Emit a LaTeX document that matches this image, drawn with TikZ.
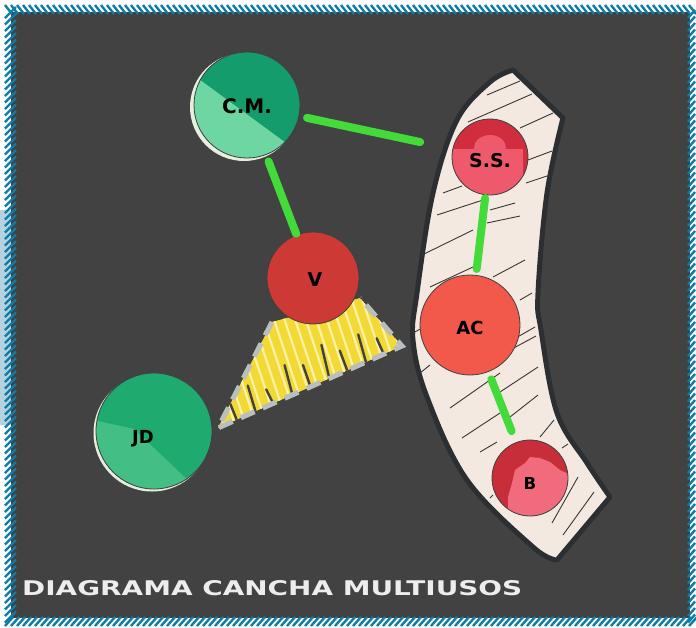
\documentclass[tikz,border=0pt]{standalone}
\usepackage{fontspec}
\usepackage{graphicx}
\setmainfont{DejaVu Sans}
\newfontfamily\titlefont{DejaVu Sans}
\usetikzlibrary{calc}
\definecolor{bgdark}{HTML}{424243}
\definecolor{frameblue}{HTML}{0E7CA8}
\definecolor{patchblue}{HTML}{B6D2DF}
\definecolor{bandfill}{HTML}{F3E9E0}
\definecolor{bandedge}{HTML}{2C2F32}
\definecolor{hatchdark}{HTML}{3A3634}
\definecolor{linkgreen}{HTML}{42DB3A}
\definecolor{wedgeyellow}{HTML}{F2D935}
\definecolor{yellowlight}{HTML}{FBF2A6}
\definecolor{wedgedash}{HTML}{B9BFBF}
\definecolor{cmdark}{HTML}{149C6D}
\definecolor{cmlight}{HTML}{6ED6A2}
\definecolor{jdgreen}{HTML}{1FAA6F}
\definecolor{jdlight}{HTML}{4CC58B}
\definecolor{paperwhite}{HTML}{E6EEDD}
\definecolor{vred}{HTML}{CD3A36}
\definecolor{ssdark}{HTML}{D02E3E}
\definecolor{sspink}{HTML}{EE5A6B}
\definecolor{acred}{HTML}{F2594A}
\definecolor{bdark}{HTML}{C72E39}
\definecolor{bpink}{HTML}{F16B7C}
\definecolor{titlewhite}{HTML}{EDEDED}
\begin{document}
\begin{tikzpicture}[x=1pt,y=-1pt,
  conn/.style={draw=linkgreen, line width=8pt, line cap=round},
  station/.style={circle, inner sep=0pt, draw=black!75, line width=0.8pt},
  lbl/.style={text=black, inner sep=0pt},
  bandhatch/.style={draw=hatchdark, line width=0.9pt},
  framehatch/.style={draw=frameblue, line width=2.4pt}]
\useasboundingbox (0,0) rectangle (696,627);
\fill[white] (0,0) rectangle (696,627);
\fill[patchblue] (0,210) rectangle (11,425);
\fill[bgdark] (11,12) rectangle (690,618);
% frame hatch
\foreach \x in {5,11,...,690} \draw[framehatch] (\x,5) -- ++(7,9);
\foreach \x in {5,11,...,690} \draw[framehatch] (\x,626) -- ++(8,-9);
\foreach \y in {18,24.5,...,626} \draw[framehatch] (5,\y) -- ++(11,-11);
\foreach \y in {18,24.5,...,626} \draw[framehatch] (688,\y) -- ++(7,-8);
% curved band
\draw[bandedge, line width=5pt, fill=bandfill, line join=round]
  plot[smooth, tension=0.6] coordinates {(513,70) (490,82) (457,120) (433,193) (417,293) (413,340) (427,397) (467,480) (533,547) (557,560)}
  -- (610,497)
  -- plot[smooth, tension=0.6] coordinates {(610,497) (587,463) (557,413) (541,330) (538,293) (547,193) (563,118)}
  -- cycle;
\begin{scope}
\clip plot[smooth, tension=0.6] coordinates {(513,70) (490,82) (457,120) (433,193) (417,293) (413,340) (427,397) (467,480) (533,547) (557,560)}
  -- (610,497)
  -- plot[smooth, tension=0.6] coordinates {(610,497) (587,463) (557,413) (541,330) (538,293) (547,193) (563,118)}
  -- cycle;
\foreach \a/\b in {
  {(487,95)}/{(520,81)}, {(468,122)}/{(532,94)}, {(520,128)}/{(553,113)},
  {(528,160)}/{(552,151)}, {(526,183)}/{(550,175)}, {(443,193)}/{(462,186)},
  {(437,215)}/{(483,200)}, {(490,210)}/{(515,203)}, {(422,255)}/{(473,230)},
  {(487,223)}/{(520,216)}, {(430,287)}/{(473,267)}, {(493,277)}/{(525,260)},
  {(520,300)}/{(532,293)}, {(413,333)}/{(422,328)}, {(507,343)}/{(535,327)},
  {(510,350)}/{(536,336)}, {(420,373)}/{(430,365)}, {(450,408)}/{(500,373)},
  {(500,392)}/{(538,367)}, {(462,438)}/{(500,413)}, {(480,452)}/{(497,442)},
  {(510,417)}/{(538,395)}, {(540,437)}/{(554,420)}, {(562,448)}/{(568,444)},
  {(490,498)}/{(493,495)}, {(552,523)}/{(578,477)}, {(563,535)}/{(594,492)}}
  \draw[bandhatch] \a -- \b;
\end{scope}
% yellow wedge
\coordinate (wa) at (218,428);
\coordinate (wb) at (272,322);
\coordinate (wc) at (360,298);
\coordinate (wd) at (402,346);
\begin{scope}
\clip (wa) -- (wb) -- (wc) -- (wd) -- cycle;
\fill[wedgeyellow] (wa) -- (wb) -- (wc) -- (wd) -- cycle;
\foreach \t in {0.02,0.07,...,1.0}
  \draw[yellowlight, line width=2.2pt] ($(wa)!\t!(wd)$) ++(6,8) -- ++(-40,-120);
\foreach \t/\l in {0.1/22,0.2/30,0.3/18,0.4/34,0.5/26,0.6/38,0.7/24,0.8/32,0.9/20}
  \draw[bgdark, line width=2.4pt, line cap=round] ($(wa)!\t!(wd)$) ++(2,4) -- ++(-9,-\l);
\end{scope}
\draw[wedgedash, line width=5pt, dash pattern=on 15pt off 9pt] (wb) -- (wa) -- (wd) -- (wc);
% paper rims of green circles
\fill[paperwhite] (244,107) circle (54);
\fill[paperwhite] (152,433) circle (58.5);
% stations
\node[station, minimum size=106pt, fill=cmdark,
  path picture={\fill[cmlight] ([shift={(-70,-42)}]path picture bounding box.center) -- ([shift={(50,46)}]path picture bounding box.center) -- ([shift={(50,80)}]path picture bounding box.center) -- ([shift={(-70,80)}]path picture bounding box.center) -- cycle;},
  label={[lbl, font=\bfseries\fontsize{20}{20}\selectfont, yshift=-1pt]center:C.M.}] (cm) at (247,105) {};
\node[station, minimum size=116pt, fill=jdgreen,
  path picture={\fill[jdlight, opacity=0.8] ([shift={(-65,-12)}]path picture bounding box.center) -- ([shift={(-20,-2)}]path picture bounding box.center) -- ([shift={(40,55)}]path picture bounding box.center) -- ([shift={(-65,65)}]path picture bounding box.center) -- cycle;},
  label={[lbl, font=\bfseries\fontsize{18}{18}\selectfont, xshift=-11pt, yshift=-8pt]center:JD}] (jd) at (154,431) {};
\node[station, minimum size=92pt, fill=vred,
  label={[lbl, font=\bfseries\fontsize{19}{19}\selectfont, xshift=2pt, yshift=-2pt]center:V}] (v) at (313,278) {};
\node[station, minimum size=76pt, fill=ssdark,
  path picture={\fill[sspink] ([shift={(-45,-8)}]path picture bounding box.center) rectangle ([shift={(33,50)}]path picture bounding box.center);
    \fill[sspink] ([shift={(0,-9)}]path picture bounding box.center) ellipse [x radius=16, y radius=13];},
  label={[lbl, font=\bfseries\fontsize{19}{19}\selectfont, yshift=-4pt]center:S.S.}] (ss) at (490,157) {};
\node[station, minimum size=100pt, fill=acred,
  label={[lbl, font=\bfseries\fontsize{18}{18}\selectfont, yshift=-3pt]center:AC}] (ac) at (470,325) {};
\node[station, minimum size=76pt, fill=bdark,
  path picture={\fill[bpink] ([shift={(-22,19)}]path picture bounding box.center) -- ([shift={(-18,5)}]path picture bounding box.center) -- ([shift={(-15,-8)}]path picture bounding box.center) -- ([shift={(-5,-15)}]path picture bounding box.center) -- ([shift={(0,-21)}]path picture bounding box.center) -- ([shift={(10,-20)}]path picture bounding box.center) -- ([shift={(20,-16)}]path picture bounding box.center) -- ([shift={(30,-8)}]path picture bounding box.center) -- ([shift={(45,-1)}]path picture bounding box.center) -- ([shift={(45,45)}]path picture bounding box.center) -- ([shift={(-22,45)}]path picture bounding box.center) -- cycle;},
  label={[lbl, font=\bfseries\fontsize{16.5}{16.5}\selectfont, yshift=-5pt]center:B}] (b) at (530,478) {};
% connectors
\draw[conn, shorten <=8pt, shorten >=33pt] (cm) -- (ss);
\draw[conn, shorten <=7pt, shorten >=1pt] (cm) -- (v);
\draw[conn, shorten <=3pt, shorten >=6pt] (ss) -- (ac);
\draw[conn, shorten <=8pt, shorten >=12pt] (ac) -- (b);
% title
\node[anchor=south west, inner sep=0pt, text=titlewhite] (title) at (22,596)
  {\resizebox{500pt}{15pt}{\titlefont\bfseries DIAGRAMA CANCHA MULTIUSOS}};
\end{tikzpicture}
\end{document}
